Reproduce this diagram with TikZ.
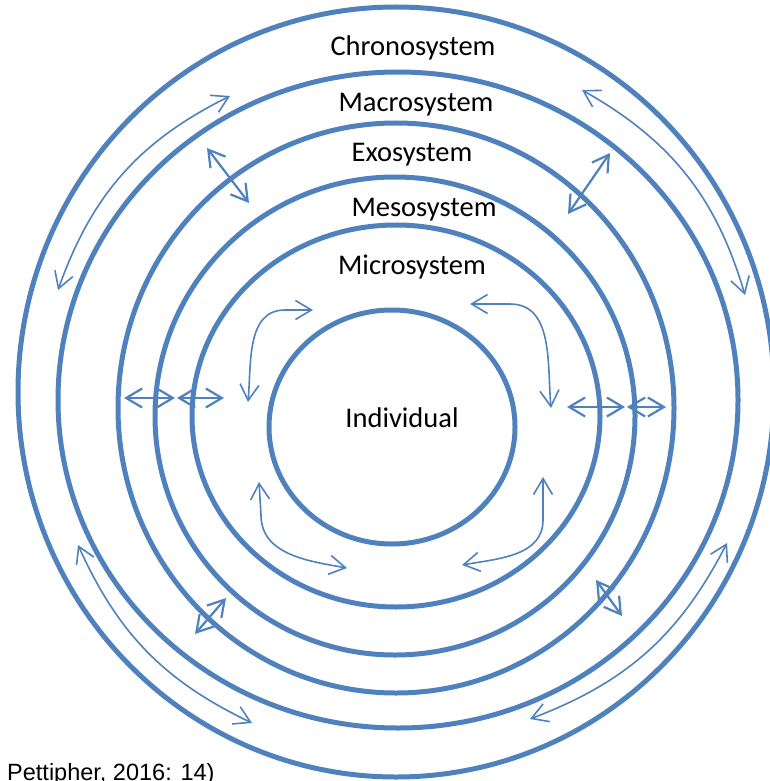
\documentclass[tikz,border=0pt]{standalone}
\usepackage{fontspec}
\setmainfont{Carlito}
\newfontfamily\citefont{Liberation Sans}
\usetikzlibrary{arrows.meta, shapes.geometric}
\definecolor{ringblue}{RGB}{79,129,189}
\tikzset{
    ring/.style={ % one layer of the system
        draw=ringblue,
        ellipse,
        line width=5pt,
        inner sep=0pt
    },
    layer/.style={ % name of a layer
        font=\fontsize{28.5}{34}\selectfont,
        inner sep=0pt
    },
    link/.style={ % two-way influence, thin open tips
        draw=ringblue,
        line width=1.6pt,
        {Straight Barb[length=16pt,width=19pt]}-{Straight Barb[length=16pt,width=19pt]}
    },
    cross/.style={ % straight link across one ring
        link,
        line width=2.2pt
    }
}

\begin{document}
\begin{tikzpicture}[x=1pt, y=1pt]
    \useasboundingbox (0,0) rectangle (770,-781);
    % rings, outermost first
    \node[ring, minimum width=756pt, minimum height=770pt] (chrono) at (396,-392) {};
    \node[ring, minimum width=680pt, minimum height=656pt] (macro)  at (398,-400) {};
    \node[ring, minimum width=556pt, minimum height=570pt] (exo)    at (396,-408) {};
    \node[ring, minimum width=480pt, minimum height=478pt] (meso)   at (395,-416) {};
    \node[ring, minimum width=408pt, minimum height=382pt] (micro)  at (396,-416) {};
    \node[ring, minimum width=246pt, minimum height=234pt] (indiv)  at (392,-427) {};
    % names of the rings
    \node[layer] (chronolbl) at (413,-48)  {Chronosystem};
    \node[layer] (macrolbl)  at (416,-105) {Macrosystem};
    \node[layer] (exolbl)    at (412,-155) {Exosystem};
    \node[layer] (mesolbl)   at (424,-210) {Mesosystem};
    \node[layer] (microlbl)  at (412,-267) {Microsystem};
    \node[layer] (indivlbl)  at (402,-418) {Individual};
    \node[anchor=base west, inner sep=0pt, font=\citefont\fontsize{23.5}{28}\selectfont]
        (source) at (7,-780) {Pettipher, 2016: 14)};
    % end points of the arrows
    \coordinate (ctla) at (58,-290);  \coordinate (ctlb) at (230,-96);
    \coordinate (ctra) at (582,-90);  \coordinate (ctrb) at (745,-295);
    \coordinate (cbla) at (78,-545);  \coordinate (cblb) at (252,-723);
    \coordinate (cbra) at (530,-719); \coordinate (cbrb) at (727,-543);
    \coordinate (xtla) at (207,-148); \coordinate (xtlb) at (249,-203);
    \coordinate (xtra) at (610,-153); \coordinate (xtrb) at (568,-214);
    \coordinate (xbla) at (226,-598); \coordinate (xblb) at (195,-634);
    \coordinate (xbra) at (596,-580); \coordinate (xbrb) at (622,-616);
    \coordinate (hl1a) at (124,-398); \coordinate (hl1b) at (175,-398);
    \coordinate (hl2a) at (177,-398); \coordinate (hl2b) at (224,-398);
    \coordinate (hr1a) at (567,-407); \coordinate (hr1b) at (625,-407);
    \coordinate (hr2a) at (627,-407); \coordinate (hr2b) at (666,-407);
    \coordinate (etla) at (248,-402); \coordinate (etlc) at (285,-310); \coordinate (etlb) at (313,-310);
    \coordinate (etra) at (470,-304); \coordinate (etrc) at (510,-304); \coordinate (etrb) at (551,-408);
    \coordinate (ebla) at (259,-482); \coordinate (eblc) at (261,-515); \coordinate (eblb) at (347,-568);
    \coordinate (ebra) at (462,-565); \coordinate (ebrc) at (543,-520); \coordinate (ebrb) at (543,-477);
    % chronosystem arcs
    \draw[link] (ctla) to[bend left=22]  (ctlb);
    \draw[link] (ctra) to[bend left=22]  (ctrb);
    \draw[link] (cbla) to[bend right=20] (cblb);
    \draw[link] (cbra) to[bend right=21] (cbrb);
    % straight links across rings
    \draw[cross] (xtla) -- (xtlb);
    \draw[cross] (xtra) -- (xtrb);
    \draw[cross] (xbla) -- (xblb);
    \draw[cross] (xbra) -- (xbrb);
    \draw[cross] (hl1a) -- (hl1b);
    \draw[cross] (hl2a) -- (hl2b);
    \draw[cross] (hr1a) -- (hr1b);
    \draw[cross] (hr2a) -- (hr2b);
    % links inside the microsystem
    \draw[link] (etla) to[out=85,in=180] (etlc) -- (etlb);
    \draw[link] (etra) -- (etrc) to[out=0,in=95] (etrb);
    \draw[link] (ebla) -- (eblc) to[out=-90,in=170] (eblb);
    \draw[link] (ebra) to[out=10,in=-90] (ebrc) -- (ebrb);
\end{tikzpicture}
\end{document}
